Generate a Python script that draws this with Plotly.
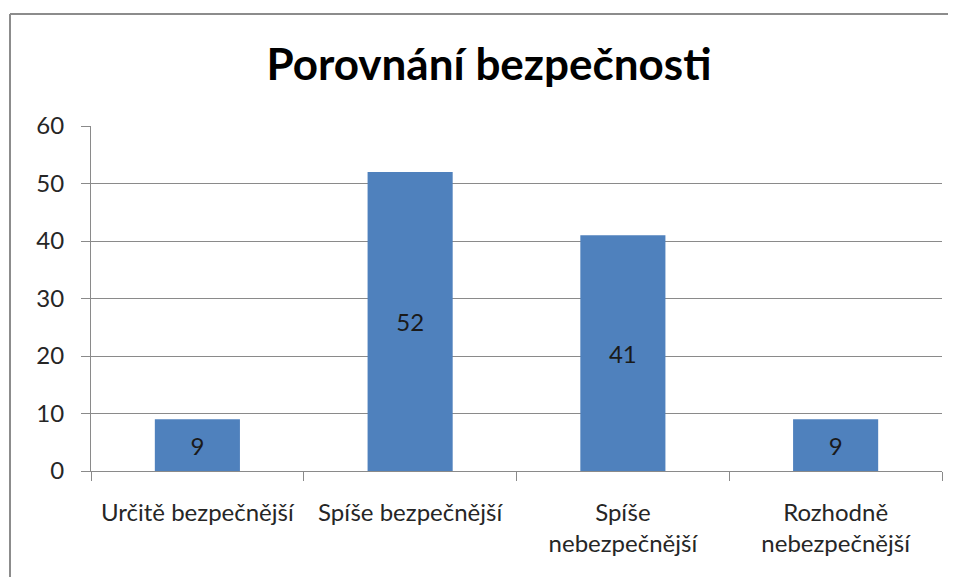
import plotly.graph_objects as go

categories = ["Určitě bezpečnější", "Spíše bezpečnější", "Spíše<br>nebezpečnější", "Rozhodně<br>nebezpečnější"]
values = [9, 52, 41, 9]
title_text = "Porovnání bezpečnosti"
y_ticks = [0, 10, 20, 30, 40, 50, 60]

OFF = 8  # page body margin offset
W, H = 956 - 2 * OFF, 585 - 2 * OFF
L, R, T, B = 91 - OFF, 942 - OFF, 126 - OFF, 471 - OFF
FONT = "Lato, Carlito, Calibri, sans-serif"
GRID = "#8a8a8a"

fig = go.Figure(go.Bar(
    x=categories, y=values,
    marker=dict(color="#4F81BD", line=dict(width=0)),
    text=[str(v) for v in values],
    textposition="inside", insidetextanchor="middle",
    textfont=dict(family=FONT, size=24, color="#1a1a1a"),
    textangle=0, cliponaxis=False,
))

pw, ph = R - L, B - T
def px_to_paper_x(px):
    return (px - OFF - L) / pw
def px_to_paper_y(py):
    return (B - (py - OFF)) / ph

fig.update_layout(
    width=W, height=H,
    margin=dict(l=L, r=W - R, t=T, b=H - B, pad=0),
    paper_bgcolor="white", plot_bgcolor="white",
    bargap=0.6,
    showlegend=False,
    uniformtext=dict(minsize=10, mode="show"),
    title=dict(text="<b>" + title_text + "</b>", x=px_to_paper_x(489), xref="paper", xanchor="center",
               y=1 - (65 - OFF) / H, yanchor="middle",
               font=dict(family=FONT, size=44, color="#000000")),
    xaxis=dict(
        type="category", tickson="boundaries", ticks="outside", ticklen=9, tickcolor=GRID, tickwidth=1,
        showline=True, linecolor=GRID, linewidth=1, showgrid=False,
        tickfont=dict(family=FONT, size=24, color="#262626"),
        ticklabelstandoff=20, fixedrange=True,
    ),
    yaxis=dict(
        range=[0, 60], tickvals=y_ticks, ticks="outside", ticklen=9, tickcolor=GRID, tickwidth=1,
        showline=True, linecolor=GRID, linewidth=1,
        showgrid=True, gridcolor=GRID, gridwidth=1, zeroline=False,
        tickfont=dict(family=FONT, size=24, color="#262626"),
        ticklabelstandoff=12, fixedrange=True,
    ),
    shapes=[
        dict(type="line", xref="paper", yref="paper",
             x0=px_to_paper_x(10), x1=px_to_paper_x(10), y0=px_to_paper_y(14), y1=px_to_paper_y(620),
             line=dict(color="#8c8c8c", width=2)),
        dict(type="line", xref="paper", yref="paper",
             x0=px_to_paper_x(10), x1=px_to_paper_x(990), y0=px_to_paper_y(14), y1=px_to_paper_y(14),
             line=dict(color="#8c8c8c", width=2)),
    ],
)

fig.write_html("out.html")
